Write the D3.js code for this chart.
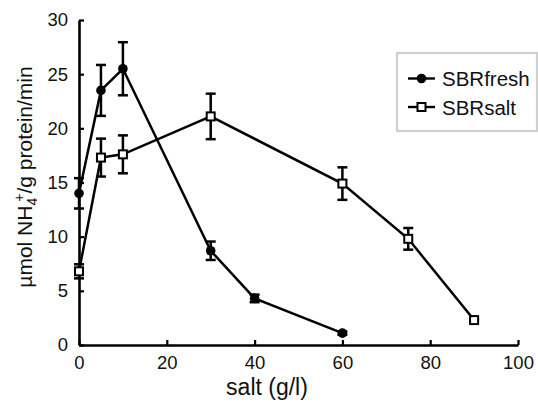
<!DOCTYPE html>
<html>
<head>
<meta charset="utf-8">
<script src="https://cdn.jsdelivr.net/npm/d3@7"></script>
<style>
  body { margin: 0; background: #fff; }
  text { font-family: "Liberation Sans", Arial, sans-serif; }
</style>
</head>
<body>
<script>
// salt concentration (g/l) and activity (umol NH4+/g protein/min)
var freshSalt = [ 0, 5, 10, 30, 40, 60 ];
var freshMean = [ 14.0, 23.5, 25.5, 8.7, 4.3, 1.1 ];
var freshErr  = [ 1.4, 2.35, 2.45, 0.85, 0.35, 0.15 ];

var saltSalt = [ 0, 5, 10, 30, 60, 75, 90 ];
var saltMean = [ 6.8, 17.3, 17.6, 21.1, 14.9, 9.8, 2.3 ];
var saltErr  = [ 0.65, 1.75, 1.75, 2.1, 1.5, 1.0, 0.1 ];

var xTicks = [ 0, 20, 40, 60, 80, 100 ];
var yTicks = [ 0, 5, 10, 15, 20, 25, 30 ];

var width = 538, height = 405;

var svg = d3.select( "body" )
            .append( "svg" )
              .attr( "width", width )
              .attr( "height", height );

var x = d3.scaleLinear().domain( [ 0, 100 ] ).range( [ 79, 518 ] );
var y = d3.scaleLinear().domain( [ 0, 30 ] ).range( [ 345, 20 ] );

// axes, ticks point inward
var xAxis = d3.axisBottom( x ).tickValues( xTicks ).tickSize( -5 ).tickSizeOuter( 0 ).tickPadding( 11 );
var yAxis = d3.axisLeft( y ).tickValues( yTicks ).tickSize( -5 ).tickSizeOuter( 0 ).tickPadding( 11 );

var gx = svg.append( "g" ).attr( "transform", "translate(0,345)" ).call( xAxis );
var gy = svg.append( "g" ).attr( "transform", "translate(79,0)" ).call( yAxis );

[ gx, gy ].forEach( function( g ){
  g.select( ".domain" ).attr( "stroke", "#000" ).attr( "stroke-width", 2.6 );
  g.selectAll( ".tick line" ).attr( "stroke", "#000" ).attr( "stroke-width", 2.2 );
  g.selectAll( ".tick text" )
    .attr( "fill", "#111" )
    .style( "font-size", "18.5px" )
    .style( "font-family", "'Liberation Sans', Arial, sans-serif" );
});

// axis titles
svg.append( "text" )
   .attr( "x", 267 )
   .attr( "y", 395 )
   .attr( "text-anchor", "middle" )
   .style( "font-size", "23px" )
   .attr( "fill", "#111" )
   .text( "salt (g/l)" );

var yTitle = svg.append( "text" )
   .attr( "transform", "translate(32,177) rotate(-90)" )
   .attr( "text-anchor", "middle" )
   .style( "font-size", "21px" )
   .attr( "fill", "#111" );
yTitle.append( "tspan" ).text( "\u00b5mol NH" );
yTitle.append( "tspan" ).attr( "dy", 5 ).style( "font-size", "14px" ).text( "4" );
yTitle.append( "tspan" ).attr( "dx", -4 ).attr( "dy", -13 ).style( "font-size", "14px" ).text( "+" );
yTitle.append( "tspan" ).attr( "dy", 8 ).text( "/g protein/min" );

function drawSeries( xs, means, errs, marker ){
  var pts = xs.map( function( d, i ){ return { x: d, m: means[i], e: errs[i] }; } );

  var line = d3.line()
               .x( function( d ){ return x( d.x ); } )
               .y( function( d ){ return y( d.m ); } );

  svg.append( "path" )
     .datum( pts )
     .attr( "d", line )
     .attr( "fill", "none" )
     .attr( "stroke", "#000" )
     .attr( "stroke-width", 2.5 );

  // error bars
  var eb = svg.append( "g" ).attr( "stroke", "#000" ).attr( "stroke-width", 2.5 );
  eb.selectAll( "line.v" ).data( pts ).enter().append( "line" )
    .attr( "x1", function( d ){ return x( d.x ); } )
    .attr( "x2", function( d ){ return x( d.x ); } )
    .attr( "y1", function( d ){ return y( d.m - d.e ); } )
    .attr( "y2", function( d ){ return y( d.m + d.e ); } );
  [ -1, 1 ].forEach( function( s ){
    eb.selectAll( null ).data( pts ).enter().append( "line" )
      .attr( "x1", function( d ){ return x( d.x ) - 5; } )
      .attr( "x2", function( d ){ return x( d.x ) + 5; } )
      .attr( "y1", function( d ){ return y( d.m + s * d.e ); } )
      .attr( "y2", function( d ){ return y( d.m + s * d.e ); } );
  });

  drawMarkers( svg.append( "g" ), pts.map( function( d ){ return [ x( d.x ), y( d.m ) ]; } ), marker );
}

function drawMarkers( g, coords, marker ){
  if ( marker === "circle" ){
    g.selectAll( "circle" ).data( coords ).enter().append( "circle" )
     .attr( "cx", function( d ){ return d[0]; } )
     .attr( "cy", function( d ){ return d[1]; } )
     .attr( "r", 4.8 )
     .attr( "fill", "#000" );
  } else {
    g.selectAll( "rect" ).data( coords ).enter().append( "rect" )
     .attr( "x", function( d ){ return d[0] - 4; } )
     .attr( "y", function( d ){ return d[1] - 4; } )
     .attr( "width", 8 )
     .attr( "height", 8 )
     .attr( "fill", "#fff" )
     .attr( "stroke", "#000" )
     .attr( "stroke-width", 2 );
  }
}

drawSeries( saltSalt, saltMean, saltErr, "square" );
drawSeries( freshSalt, freshMean, freshErr, "circle" );

// legend
var legendNames = [ "SBRfresh", "SBRsalt" ];
var legendMarks = [ "circle", "square" ];

var lg = svg.append( "g" );
lg.append( "rect" )
  .attr( "x", 397 ).attr( "y", 53 )
  .attr( "width", 140 ).attr( "height", 78 )
  .attr( "fill", "#fff" )
  .attr( "stroke", "#cfcfcf" )
  .attr( "stroke-width", 2.2 );

legendNames.forEach( function( name, i ){
  var cy = 78.5 + i * 28.5;
  lg.append( "line" )
    .attr( "x1", 408 ).attr( "x2", 435 )
    .attr( "y1", cy ).attr( "y2", cy )
    .attr( "stroke", "#000" ).attr( "stroke-width", 2.4 );
  drawMarkers( lg.append( "g" ), [ [ 421.5, cy ] ], legendMarks[i] );
  lg.append( "text" )
    .attr( "x", 442 )
    .attr( "y", cy + 7.5 )
    .style( "font-size", "20.5px" )
    .attr( "fill", "#111" )
    .text( name );
});
</script>
</body>
</html>
